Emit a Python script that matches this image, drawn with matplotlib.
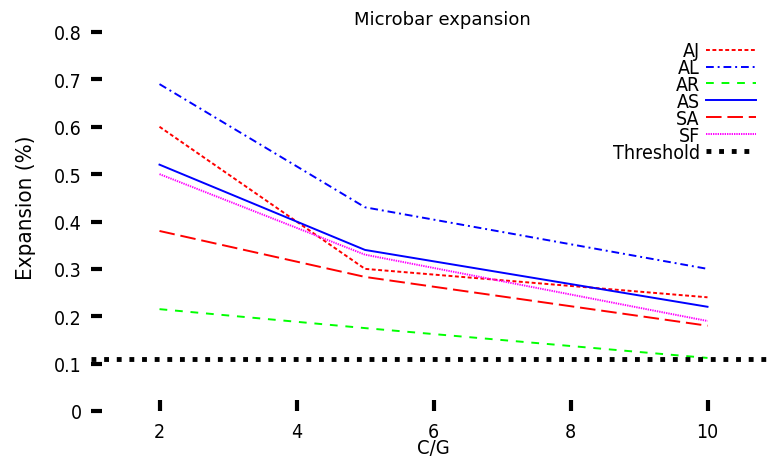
import numpy as np
import matplotlib.pyplot as plt

# C/G ratios and expansion (%) per mix
cg = [2, 5, 10]
aj = [0.60, 0.30, 0.24]
al = [0.69, 0.43, 0.30]
ar = [0.215, 0.175, 0.112]
as_ = [0.52, 0.34, 0.22]
sa = [0.38, 0.283, 0.18]
sf = [0.50, 0.33, 0.19]
threshold = 0.11

plt.rcParams['font.family'] = ['DejaVu Sans']

fig = plt.figure(figsize=(7.73, 4.60), dpi=100)
ax = fig.add_axes([91/773, 48/460, 685/773, 379/460])

ax.plot(cg, aj, color='#ff0000', lw=1.4, ls=(0, (2, 1.3)), label='AJ')
ax.plot(cg, al, color='#0000ff', lw=1.4, ls=(0, (4, 2, 1, 2)), label='AL')
ax.plot(cg, ar, color='#00ff00', lw=1.4, ls=(0, (4, 4)), label='AR')
ax.plot(cg, as_, color='#0000ff', lw=1.4, ls='-', label='AS')
ax.plot(cg, sa, color='#ff0000', lw=1.4, ls=(0, (8, 3)), label='SA')
ax.plot(cg, sf, color='#ff00ff', lw=1.4, ls=(0, (0.7, 0.5)), label='SF')
ax.plot([1, 11], [threshold, threshold], color='black', lw=3.5,
        ls=(0, (1, 1.6)), label='Threshold')

ax.set_xlim(1, 11)
ax.set_ylim(0, 0.8)
for s in ax.spines.values():
    s.set_visible(False)

ax.set_xticks([2, 4, 6, 8, 10])
ax.set_yticks([0, 0.1, 0.2, 0.3, 0.4, 0.5, 0.6, 0.7, 0.8])
ax.set_yticklabels(['0', '0.1', '0.2', '0.3', '0.4', '0.5', '0.6', '0.7', '0.8'])
ax.tick_params(axis='both', direction='in', length=8, width=3, labelsize=14)
ax.tick_params(axis='y', pad=6.5)
ax.tick_params(axis='x', pad=8)
for lab in ax.get_xticklabels() + ax.get_yticklabels():
    lab.set_fontstretch('condensed')

ax.set_xlabel('C/G', fontsize=14.5, labelpad=-2, fontstretch='condensed')
ax.set_ylabel('Expansion (%)', fontsize=16, fontstretch='condensed')
ax.yaxis.set_label_coords(-0.081, 0.54)
fig.text(442/773, 1 - 20/460, 'Microbar expansion', fontsize=13,
         ha='center', va='center')

leg = ax.legend(loc='upper right', bbox_to_anchor=(0.971, 0.975), frameon=False,
                markerfirst=False, fontsize=14, labelspacing=-0.11,
                handlelength=2.6, handletextpad=0.3, borderaxespad=0,
                borderpad=0)
for t in leg.get_texts():
    t.set_ha('right')
    t.set_fontstretch('condensed')

fig.savefig('out.png', dpi=100)
